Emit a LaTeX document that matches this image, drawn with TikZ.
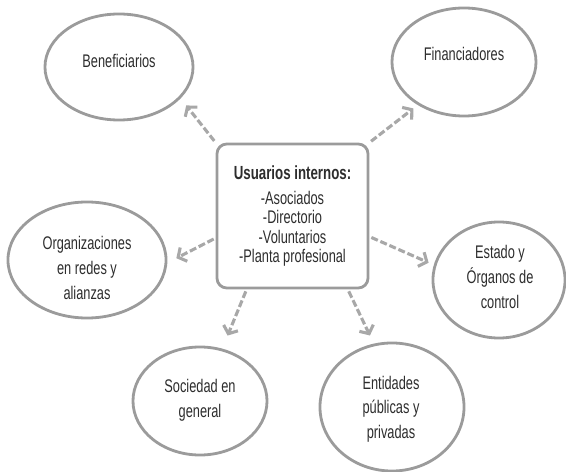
\documentclass[tikz,border=0pt]{standalone}
\usepackage{fontspec}
\setmainfont[FakeStretch=0.7]{Liberation Sans}
\usetikzlibrary{shapes.geometric,arrows.meta}
\definecolor{linegray}{RGB}{155,155,155}
\definecolor{arrowgray}{RGB}{168,168,168}
\definecolor{textgray}{RGB}{45,45,45}

\begin{document}
\begin{tikzpicture}[x=0.025cm, y=-0.025cm,
   oval/.style={ellipse, draw=linegray, line width=2pt, inner sep=0pt},
   lbl/.style={align=center, text=textgray, font=\fontsize{13}{17.5}\selectfont},
   link/.style={draw=arrowgray, line width=2.2pt, dash pattern=on 5pt off 2pt,
                shorten <=1.5pt, -{Straight Barb[length=4.5pt,width=11pt]}}]
   \useasboundingbox (0,0) rectangle (566,472);

   \node[draw=linegray, line width=2pt, rounded corners=7pt, inner sep=0pt,
         minimum width=3.775cm, minimum height=3.6cm, align=center, text=textgray,
         font=\fontsize{13}{13.8}\selectfont] (users) at (292.5,216)
         {{\fontsize{13.5}{13.8}\selectfont\bfseries Usuarios internos:}\\[3.9pt] -Asociados\\ -Directorio\\ -Voluntarios\\ -Planta profesional};

   \node[oval, minimum width=3.7cm,  minimum height=2.65cm] (benef)  at (119,67)  {};
   \node[oval, minimum width=3.6cm,  minimum height=2.7cm]  (finan)  at (464,62)  {};
   \node[oval, minimum width=3.95cm, minimum height=2.9cm]  (organ)  at (87,260)  {};
   \node[oval, minimum width=3.3cm,  minimum height=2.9cm]  (estado) at (499,280) {};
   \node[oval, minimum width=3.35cm, minimum height=2.7cm]  (socied) at (200,401) {};
   \node[oval, minimum width=3.6cm,  minimum height=3.2cm]  (entid)  at (392,407) {};

   \node[lbl] (benef-txt)  at (119,61)  {Beneficiarios};
   \node[lbl] (finan-txt)  at (464,54)  {Financiadores};
   \node[lbl] (organ-txt)  at (87,268)  {Organizaciones\\en redes y\\alianzas};
   \node[lbl] (estado-txt) at (500,277) {Estado y\\Órganos de\\control};
   \node[lbl] (socied-txt) at (200,400) {Sociedad en\\general};
   \node[lbl] (entid-txt)  at (391,409) {Entidades\\públicas y\\privadas};

   \foreach \from/\to/\gap in {north west/benef.-27/6.4pt, north east/finan.-137/3.9pt,
                               196/organ.-2/7.2pt, -15/estado.167/4pt,
                               -122/socied.67/10pt, -53/entid.106/6.4pt} {
     \draw[link, shorten >=\gap] (users.\from) -- (\to);
   }
\end{tikzpicture}
\end{document}
